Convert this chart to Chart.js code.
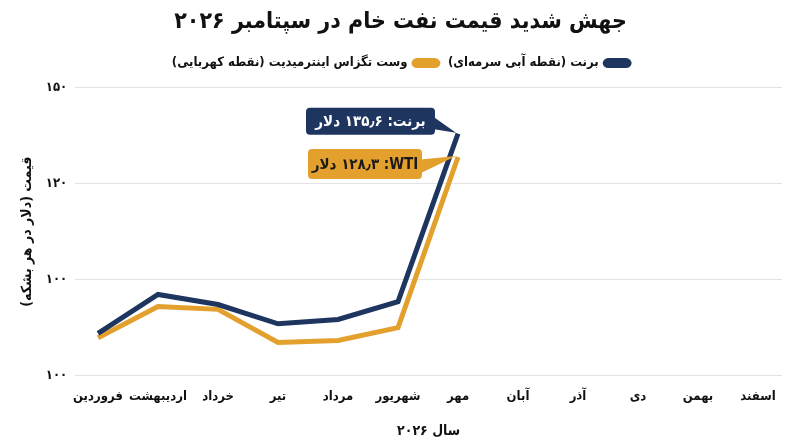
<!DOCTYPE html>
<html>
<head>
<meta charset="utf-8">
<script src="https://cdn.jsdelivr.net/npm/chart.js@4.4.1/dist/chart.umd.min.js"></script>
<style>
    html, body { margin: 0; padding: 0; background: #ffffff; }
    #wrap { width: 800px; height: 447px; }
</style>
</head>
<body>
<div id="wrap"><canvas id="oilChart" dir="rtl"></canvas></div>
<script>
// Months (Persian calendar), year 2026
const months = ["فروردین", "اردیبهشت", "خرداد", "تیر", "مرداد", "شهریور", "مهر", "آبان", "آذر", "دی", "بهمن", "اسفند"];

// Prices in dollars per barrel
const brent = [88.8, 96.9, 94.8, 90.8, 91.7, 95.4, 135.6, null, null, null, null, null];
const wti = [87.9, 94.4, 93.8, 86.9, 87.3, 90.0, 128.3, null, null, null, null, null];

// The y axis is not linear: these values sit on evenly spaced gridlines
const yBreaks = [80, 100, 120, 150];
const yTickLabels = ["۱۰۰", "۱۰۰", "۱۲۰", "۱۵۰"];

const navy = "#1e3560";
const amber = "#e3a02c";
const fontFamily = "'DejaVu Sans Condensed', 'DejaVu Sans', sans-serif";

// place a price on the piecewise axis
function toAxis(v) {
    if (v === null) return null;
    for (let i = 0; i < yBreaks.length - 1; i++) {
        if (v <= yBreaks[i + 1] || i === yBreaks.length - 2) {
            return i + (v - yBreaks[i]) / (yBreaks[i + 1] - yBreaks[i]);
        }
    }
}

function toPoints(values) {
    return values.map((v, i) => ({ x: i, y: toAxis(v) }));
}

// Callout boxes next to the last point of each series
const callouts = {
    id: "callouts",
    afterDatasetsDraw(chart) {
        const ctx = chart.ctx;
        const items = [
            { ds: 0, text: "برنت: ۱۳۵٫۶ دلار", bg: navy, color: "#ffffff", dx: -152, dy: -26, w: 129, h: 27 },
            { ds: 1, text: "WTI\u200F: ۱۲۸٫۳ دلار", bg: amber, color: "#1a1a1a", dx: -150, dy: -8, w: 114, h: 30 }
        ];
        items.forEach(it => {
            const meta = chart.getDatasetMeta(it.ds);
            const pt = meta.data[6];
            const x = pt.x + it.dx, y = pt.y + it.dy;
            ctx.save();
            ctx.fillStyle = it.bg;
            ctx.beginPath();
            ctx.roundRect(x, y, it.w, it.h, 4);
            ctx.fill();
            // pointer
            ctx.beginPath();
            ctx.moveTo(x + it.w - 1, y + it.h * 0.35);
            ctx.lineTo(pt.x - 2, pt.y - 1);
            ctx.lineTo(x + it.w - 1, y + it.h * 0.8);
            ctx.closePath();
            ctx.fill();
            ctx.fillStyle = it.color;
            ctx.font = "bold 15px " + fontFamily;
            ctx.direction = "rtl";
            ctx.textAlign = "center";
            ctx.textBaseline = "middle";
            ctx.fillText(it.text, x + it.w / 2, y + it.h / 2 + 1);
            ctx.restore();
        });
    }
};

// extra room under the legend
const legendGap = {
    id: "legendGap",
    beforeUpdate(chart) {
        const legend = chart.legend;
        if (legend && !legend._gapAdded) {
            const fit = legend.fit;
            legend.fit = function () {
                fit.call(this);
                this.height += 8;
            };
            legend._gapAdded = true;
        }
    }
};

new Chart(document.getElementById("oilChart"), {
    type: "line",
    data: {
        datasets: [
            {
                label: "برنت (نقطه آبی سرمه‌ای)",
                data: toPoints(brent),
                borderColor: navy,
                backgroundColor: navy,
                borderWidth: 5,
                pointRadius: 0,
                tension: 0
            },
            {
                label: "وست تگزاس اینترمیدیت (نقطه کهربایی)",
                data: toPoints(wti),
                borderColor: amber,
                backgroundColor: amber,
                borderWidth: 5,
                pointRadius: 0,
                tension: 0
            }
        ]
    },
    options: {
        responsive: true,
        maintainAspectRatio: false,
        animation: false,
        layout: { padding: { left: 19, right: 18, top: 4, bottom: 7 } },
        plugins: {
            title: {
                display: true,
                text: "جهش شدید قیمت نفت خام در سپتامبر ۲۰۲۶",
                color: "#111111",
                font: { family: fontFamily, size: 23, weight: "bold" },
                padding: { top: 4, bottom: 11 }
            },
            legend: {
                rtl: true,
                textDirection: "rtl",
                labels: {
                    color: "#111111",
                    font: { family: fontFamily, size: 13, weight: "bold" },
                    boxWidth: 24,
                    boxHeight: 5,
                    useBorderRadius: true,
                    borderRadius: 3,
                    padding: 10
                }
            },
            tooltip: { enabled: false }
        },
        scales: {
            x: {
                type: "linear",
                min: -0.38,
                max: 11.4,
                grid: { display: false },
                border: { display: false },
                ticks: {
                    stepSize: 1,
                    includeBounds: false,
                    padding: 5,
                    color: "#111111",
                    font: { family: fontFamily, size: 13, weight: "bold" },
                    maxRotation: 0,
                    autoSkip: false,
                    callback: value => months[value]
                },
                title: {
                    display: true,
                    text: "سال ۲۰۲۶",
                    color: "#111111",
                    font: { family: fontFamily, size: 14, weight: "bold" },
                    padding: { top: 14, bottom: 0 }
                }
            },
            y: {
                min: 0,
                max: yBreaks.length - 1,
                grid: { color: "#e3e3e3", drawTicks: false },
                border: { display: false },
                ticks: {
                    stepSize: 1,
                    padding: 8,
                    color: "#111111",
                    font: { family: fontFamily, size: 13, weight: "bold" },
                    callback: value => yTickLabels[value]
                },
                title: {
                    display: true,
                    text: "قیمت (دلار در هر بشکه)",
                    color: "#111111",
                    font: { family: fontFamily, size: 14, weight: "bold" },
                    padding: { top: 0, bottom: 2 }
                }
            }
        }
    },
    plugins: [callouts, legendGap]
});
</script>
</body>
</html>
